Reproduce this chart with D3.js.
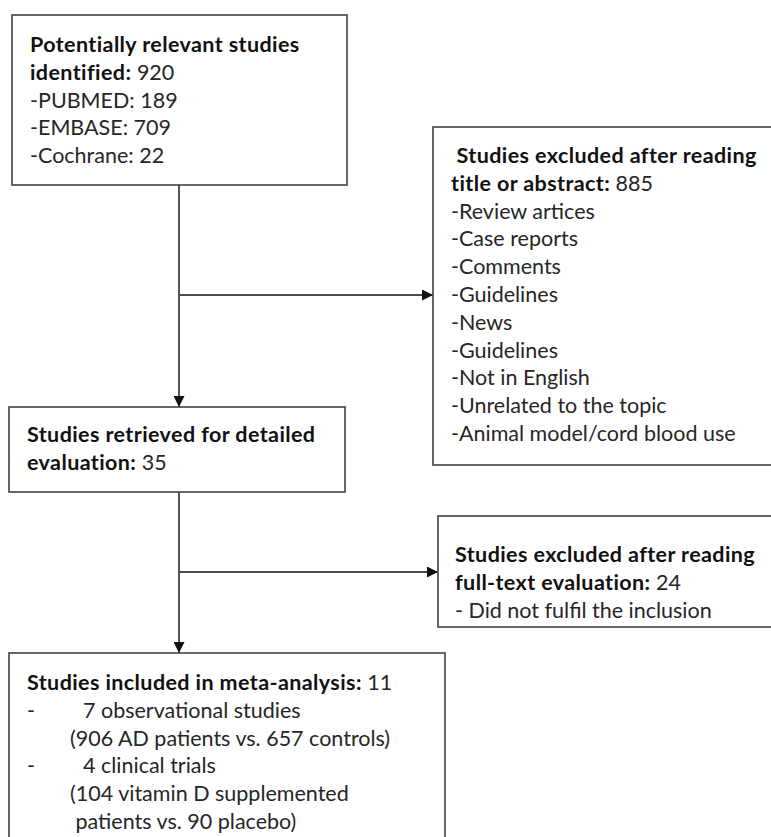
<!DOCTYPE html>
<html>
<head>
<meta charset="utf-8">
<script src="https://cdn.jsdelivr.net/npm/d3@7"></script>
<style>
  body { margin: 0; background: #fff; }
  svg { display: block; }
  .box { fill: #fff; stroke: #4d4d4d; stroke-width: 1.7; }
  .link { fill: none; stroke: #4d4d4d; stroke-width: 1.9; }
  text { font-family: Lato, "Open Sans", sans-serif; font-size: 21.5px; fill: #262626; }
  .bold { font-weight: 700; fill: #111; letter-spacing: 0.4px; }
</style>
</head>
<body>
<div id="chart"></div>
<script>
// DATA //////////////////////////////////
const sourceHeading = ["Potentially relevant studies", "identified:"];
const sourceTotal = 920;
const sourceNames = ["PUBMED", "EMBASE", "Cochrane"];
const sourceCounts = [189, 709, 22];

const screenHeading = [" Studies excluded after reading", "title or abstract:"];
const screenExcluded = 885;
const screenReasons = ["Review artices", "Case reports", "Comments", "Guidelines", "News",
  "Guidelines", "Not in English", "Unrelated to the topic", "Animal model/cord blood use"];

const retrievedHeading = ["Studies retrieved for detailed", "evaluation:"];
const retrievedCount = 35;

const fulltextHeading = ["Studies excluded after reading", "full-text evaluation:"];
const fulltextExcluded = 24;
const fulltextReasons = [" Did not fulfil the inclusion"];

const includedHeading = ["Studies included in meta-analysis:"];
const includedCount = 11;
const includedGroups = ["7 observational studies", "4 clinical trials"];
const includedDetails = [["(906 AD patients vs. 657 controls)"], ["(104 vitamin D supplemented", "patients vs. 90 placebo)"]];

// LAYOUT ////////////////////////////////
const width = 771, height = 837;
const lineH = 27.8;

const svg = d3.select("#chart")
  .append("svg")
  .attr("width", width)
  .attr("height", height);

svg.append("defs").append("marker")
  .attr("id", "arrow")
  .attr("viewBox", "0 0 10 10")
  .attr("refX", 10).attr("refY", 5)
  .attr("markerUnits", "userSpaceOnUse")
  .attr("markerWidth", 11).attr("markerHeight", 11)
  .attr("orient", "auto")
  .append("path")
  .attr("d", "M0,0 L10,5 L0,10 Z")
  .attr("fill", "#111");

// lines built from heading + values
function headingLines(heading, value) {
  const lines = heading.slice(0, -1).map(t => [{ t: t, b: true }]);
  lines.push([{ t: heading[heading.length - 1], b: true }, { t: " " + value, b: false }]);
  return lines;
}

const boxes = [
  { id: "source", x: 12, y: 15, w: 335, h: 170, tx: 30, ty: 52,
    lines: headingLines(sourceHeading, sourceTotal)
      .concat(sourceNames.map((n, i) => [{ t: "-" + n + ": " + sourceCounts[i] }])) },
  { id: "screen", x: 433, y: 127, w: 360, h: 338, tx: 451, ty: 163,
    lines: headingLines(screenHeading, screenExcluded)
      .concat(screenReasons.map(r => [{ t: "-" + r }])) },
  { id: "retrieved", x: 9, y: 407, w: 336, h: 85, tx: 27, ty: 442,
    lines: headingLines(retrievedHeading, retrievedCount) },
  { id: "fulltext", x: 438, y: 516, w: 360, h: 111, tx: 455, ty: 562,
    lines: headingLines(fulltextHeading, fulltextExcluded)
      .concat(fulltextReasons.map(r => [{ t: "-" + r }])) },
  { id: "included", x: 9, y: 653, w: 436, h: 220, tx: 27, ty: 690,
    lines: headingLines(includedHeading, includedCount) }
];

// included groups: dash, then indented text; detail lines a bit less indented
includedGroups.forEach((grp, i) => {
  boxes[4].lines.push([{ t: "-" }, { t: grp, x: 83 }]);
  includedDetails[i].forEach((d, j) => boxes[4].lines.push([{ t: (j === 0 ? "" : " ") + d, x: 70 }]));
});

// CONNECTORS ////////////////////////////
const spineX = 179;
const links = [
  { pts: [[spineX, 185], [spineX, 407]] },
  { pts: [[spineX, 295], [433, 295]] },
  { pts: [[spineX, 492], [spineX, 653]] },
  { pts: [[spineX, 572], [438, 572]] }
];

svg.selectAll(".link")
  .data(links)
  .enter()
  .append("path")
  .attr("class", "link")
  .attr("d", d => d3.line()(d.pts))
  .attr("marker-end", "url(#arrow)");

// BOXES /////////////////////////////////
const g = svg.selectAll(".node")
  .data(boxes)
  .enter()
  .append("g")
  .attr("class", "node")
  .attr("id", d => d.id);

g.append("rect")
  .attr("class", "box")
  .attr("x", d => d.x)
  .attr("y", d => d.y)
  .attr("width", d => d.w)
  .attr("height", d => d.h);

g.each(function (d) {
  const node = d3.select(this);
  d.lines.forEach((line, i) => {
    const y = d.ty + i * lineH;
    let text = null;
    line.forEach(seg => {
      // a segment with its own x starts a new text element
      if (!text || seg.x !== undefined) {
        text = node.append("text")
          .attr("x", seg.x !== undefined ? seg.x : d.tx)
          .attr("y", y)
          .attr("xml:space", "preserve");
      }
      text.append("tspan")
        .attr("class", seg.b ? "bold" : null)
        .text(seg.t);
    });
  });
});
</script>
</body>
</html>
